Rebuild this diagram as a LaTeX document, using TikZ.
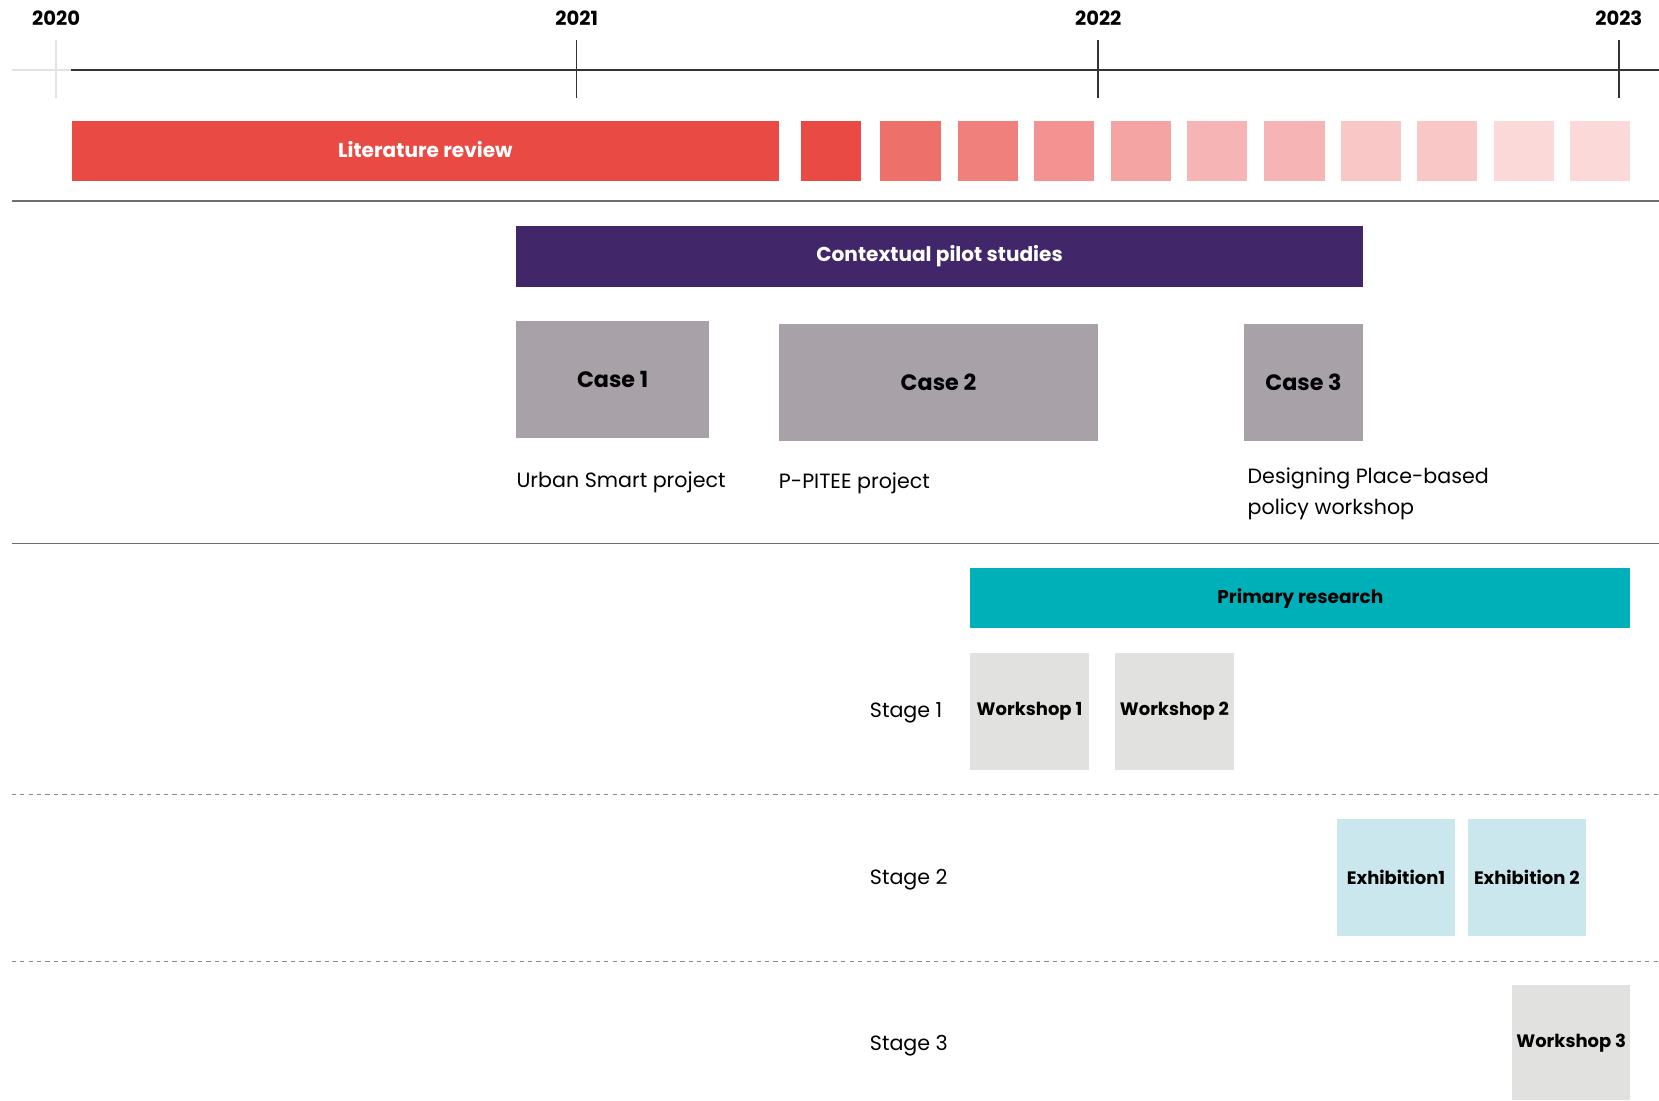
\documentclass[tikz,border=0pt]{standalone}
\usepackage{fontspec}
\setmainfont{Poppins}
\definecolor{litred}{HTML}{E94A44}
\definecolor{sq2}{HTML}{ED706A}
\definecolor{sq3}{HTML}{F0807C}
\definecolor{sq4}{HTML}{F39290}
\definecolor{sq5}{HTML}{F4A4A2}
\definecolor{sq6}{HTML}{F6B5B4}
\definecolor{sq8}{HTML}{F8C7C6}
\definecolor{sq10}{HTML}{FBD9D9}
\definecolor{purp}{HTML}{41276A}
\definecolor{casegrey}{HTML}{A8A1A8}
\definecolor{teal}{HTML}{00B0B8}
\definecolor{wsgrey}{HTML}{E1E2E0}
\definecolor{exblue}{HTML}{CBE7EE}
\definecolor{axisdark}{HTML}{333333}
\definecolor{axislight}{HTML}{E3E3E3}
\definecolor{sepgrey}{HTML}{6D6E71}
\definecolor{dashgrey}{HTML}{8A8A8A}
\begin{document}
\begin{tikzpicture}[x=1pt,y=1pt,
  blk/.style={anchor=north west,inner sep=0pt,outer sep=0pt,draw=none,align=center},
  bartext/.style={font=\fontsize{19}{22}\selectfont\bfseries},
  boxtext/.style={font=\fontsize{21}{24}\selectfont\bfseries},
  smalltext/.style={font=\fontsize{17}{20}\selectfont\bfseries},
  yeartext/.style={font=\fontsize{18.5}{20}\selectfont\bfseries},
  plain/.style={font=\fontsize{19.5}{29}\selectfont,inner sep=0pt,align=left},
  sq/.style={blk,minimum width=57pt,minimum height=57pt}
]
\useasboundingbox (0,0) rectangle (1568,-1040);
\fill[white] (0,0) rectangle (1568,-1040);

% timeline
\node[yeartext] (y20) at (53,-17) {2020};
\node[yeartext] (y21) at (545,-17) {2021};
\node[yeartext] (y22) at (1038,-17) {2022};
\node[yeartext] (y23) at (1530,-17) {2023};
\coordinate (al) at (11,-66);
\coordinate (am) at (67,-66);
\coordinate (ar) at (1568,-66);
\draw[axislight,line width=2pt] (al) -- (am);
\draw[axislight,line width=1.5pt] (53,-38) -- (53,-93);
\draw[axisdark,line width=1.8pt] (am) -- (ar);
\draw[axisdark,line width=1.5pt] (545,-38) -- (545,-93);
\draw[axisdark,line width=1.5pt] (1038,-38) -- (1038,-93);
\draw[axisdark,line width=1.5pt] (1530,-38) -- (1530,-93);

% literature review
\node[blk,fill=litred,minimum width=668pt,minimum height=57pt,text=white,bartext] (lit) at (68,-114) {\raisebox{3pt}{Literature review}};
\node[sq,fill=litred] (s1) at (757,-114) {};
\node[sq,fill=sq2] (s2) at (832,-114) {};
\node[sq,fill=sq3] (s3) at (905,-114) {};
\node[sq,fill=sq4] (s4) at (977,-114) {};
\node[sq,fill=sq5] (s5) at (1050,-114) {};
\node[sq,fill=sq6] (s6) at (1122,-114) {};
\node[sq,fill=sq6] (s7) at (1195,-114) {};
\node[sq,fill=sq8] (s8) at (1267,-114) {};
\node[sq,fill=sq8] (s9) at (1339,-114) {};
\node[sq,fill=sq10] (s10) at (1412,-114) {};
\node[sq,fill=sq10] (s11) at (1484,-114) {};

\draw[sepgrey,line width=1.2pt] (11,-190) -- (1568,-190);

% contextual pilot studies
\node[blk,fill=purp,minimum width=800pt,minimum height=57pt,text=white,bartext] (cps) at (488,-214) {\raisebox{1pt}{Contextual pilot studies}};
\node[blk,fill=casegrey,minimum width=182pt,minimum height=111pt,boxtext] (c1) at (488,-303) {Case 1};
\node[blk,fill=casegrey,minimum width=302pt,minimum height=111pt,boxtext] (c2) at (736,-306) {Case 2};
\node[blk,fill=casegrey,minimum width=112pt,minimum height=111pt,boxtext] (c3) at (1176,-306) {Case 3};
\node[plain,anchor=west] (l1) at (488,-456) {Urban Smart project};
\node[plain,anchor=west] (l2) at (736,-457) {P-PITEE project};
\node[plain,anchor=north west] (l3) at (1179,-442) {Designing Place-based\\policy workshop};

\draw[sepgrey,line width=1.2pt] (11,-514) -- (1568,-514);

% primary research
\node[blk,fill=teal,minimum width=624pt,minimum height=57pt,font=\fontsize{17.5}{22}\selectfont\bfseries] (pr) at (917,-537) {Primary research};
\node[plain,anchor=west] (st1) at (822,-674) {Stage 1};
\node[blk,fill=wsgrey,minimum width=112pt,minimum height=111pt,smalltext] (w1) at (917,-617) {Workshop 1};
\node[blk,fill=wsgrey,minimum width=112pt,minimum height=111pt,smalltext] (w2) at (1054,-617) {Workshop 2};

\draw[dashgrey,line width=1.2pt,dash pattern=on 4pt off 4pt] (11,-751) -- (1568,-751);

\node[plain,anchor=west] (st2) at (822,-831) {Stage 2};
\node[blk,fill=exblue,minimum width=111pt,minimum height=111pt,smalltext] (e1) at (1264,-774) {Exhibition1};
\node[blk,fill=exblue,minimum width=112pt,minimum height=111pt,smalltext] (e2) at (1387,-774) {Exhibition 2};

\draw[dashgrey,line width=1.2pt,dash pattern=on 4pt off 4pt] (11,-909) -- (1568,-909);

\node[plain,anchor=west] (st3) at (822,-988) {Stage 3};
\node[blk,fill=wsgrey,minimum width=112pt,minimum height=109pt,smalltext] (w3) at (1429,-931) {Workshop 3};
\end{tikzpicture}
\end{document}
